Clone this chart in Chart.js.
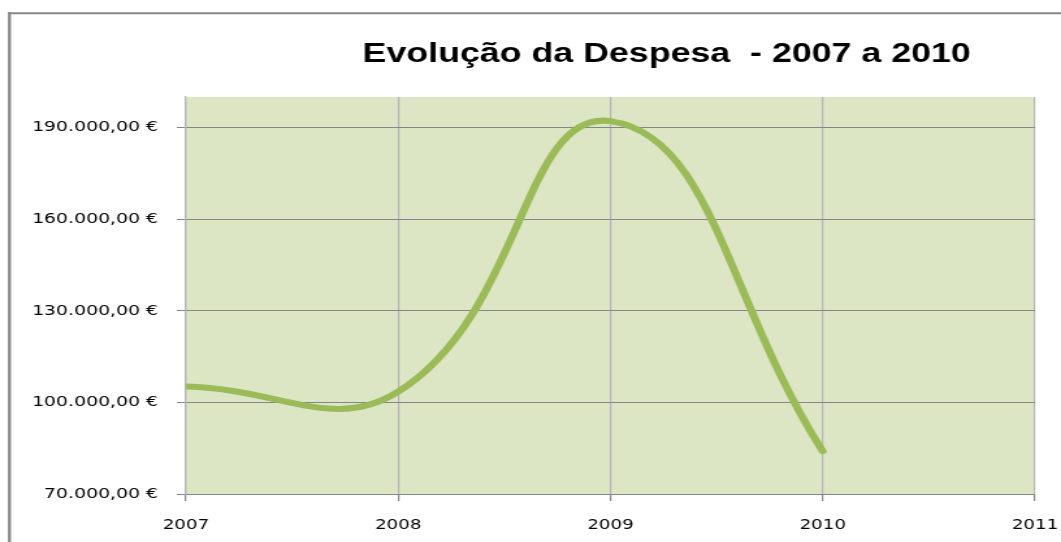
<!DOCTYPE html>
<html>
<head>
<meta charset="utf-8">
<script src="https://cdn.jsdelivr.net/npm/chart.js@4.4.1/dist/chart.umd.min.js"></script>
<style>
html,body{margin:0;padding:0;background:#ffffff;overflow:hidden;width:1061px;height:542px}
#wrap{position:absolute;left:0;top:0;width:816px;height:542px;transform-origin:0 0;transform:scale(1.30025,1)}
</style>
</head>
<body>
<div id="wrap"><canvas id="c" width="816" height="542" style="width:816px;height:542px"></canvas></div>
<script>
// ---- data ----
const titleText = 'Evolução da Despesa  - 2007 a 2010';
const years = [2007, 2008, 2009, 2010];
const despesa = [105200, 103500, 192100, 84000];
const yTickValues = [70000, 100000, 130000, 160000, 190000];
const xTickValues = [2007, 2008, 2009, 2010, 2011];

function fmtEuro(v) {
  const s = Math.round(v).toString().replace(/\B(?=(\d{3})+(?!\d))/g, '.');
  return s + ',00 €';
}

const framePlugin = {
  id: 'frame',
  beforeDraw(chart) {
    const ctx = chart.ctx, a = chart.chartArea;
    ctx.save();
    ctx.fillStyle = '#dce6c4';
    ctx.fillRect(a.left, a.top, a.right - a.left, a.bottom - a.top);
    ctx.strokeStyle = '#878787';
    ctx.lineWidth = 2.3;
    ctx.beginPath();
    ctx.moveTo(7.3, 12.3);
    ctx.lineTo(7.3, 600);
    ctx.stroke();
    ctx.lineWidth = 2;
    ctx.beginPath();
    ctx.moveTo(6.2, 13.3);
    ctx.lineTo(900, 13.3);
    ctx.stroke();
    ctx.restore();
  },
  afterDraw(chart) {
    const ctx = chart.ctx;
    ctx.save();
    ctx.fillStyle = '#000000';
    ctx.font = 'bold 27.5px "Liberation Sans", Arial, sans-serif';
    ctx.textAlign = 'center';
    ctx.textBaseline = 'alphabetic';
    ctx.fillText(titleText, 512.7, 62);
    ctx.restore();
  }
};

new Chart(document.getElementById('c'), {
  type: 'line',
  data: {
    datasets: [{
      label: 'Despesa',
      data: years.map((y, i) => ({ x: y, y: despesa[i] })),
      borderColor: '#9bbb59',
      borderWidth: 6,
      borderCapStyle: 'round',
      borderJoinStyle: 'round',
      pointRadius: 0,
      pointHoverRadius: 0,
      tension: 0.45,
      fill: false
    }]
  },
  plugins: [framePlugin],
  options: {
    responsive: false,
    animation: false,
    devicePixelRatio: 1,
    events: [],
    layout: { padding: { top: 97, right: 20, bottom: 8, left: 0 } },
    plugins: {
      legend: { display: false },
      title: { display: false },
      tooltip: { enabled: false }
    },
    scales: {
      x: {
        type: 'linear',
        min: 2007,
        max: 2011,
        afterBuildTicks(scale) { scale.ticks = xTickValues.map(v => ({ value: v })); },
        afterFit(scale) { scale.height = 40; scale.paddingLeft = 0; scale.paddingRight = 0; },
        ticks: {
          callback: v => String(v),
          color: '#000000',
          font: { family: '"DejaVu Sans", sans-serif', size: 14 },
          padding: 16.2,
          maxRotation: 0,
          autoSkip: false
        },
        grid: {
          color: '#b4b4b4',
          lineWidth: 1.2,
          tickColor: '#868686',
          tickLength: 7,
          drawOnChartArea: true
        },
        border: { display: true, color: '#868686', width: 1 }
      },
      y: {
        type: 'linear',
        min: 70000,
        max: 200000,
        afterBuildTicks(scale) { scale.ticks = yTickValues.map(v => ({ value: v })); },
        afterFit(scale) { scale.width = 143; scale.paddingTop = 0; scale.paddingBottom = 0; },
        ticks: {
          callback: v => fmtEuro(v),
          color: '#000000',
          font: { family: '"DejaVu Sans", sans-serif', size: 14.5 },
          padding: 14.5,
          autoSkip: false
        },
        grid: {
          color: '#868686',
          lineWidth: 1,
          tickColor: '#868686',
          tickLength: 7
        },
        border: { display: true, color: '#b4b4b4', width: 1.2 }
      }
    }
  }
});
</script>
</body>
</html>
